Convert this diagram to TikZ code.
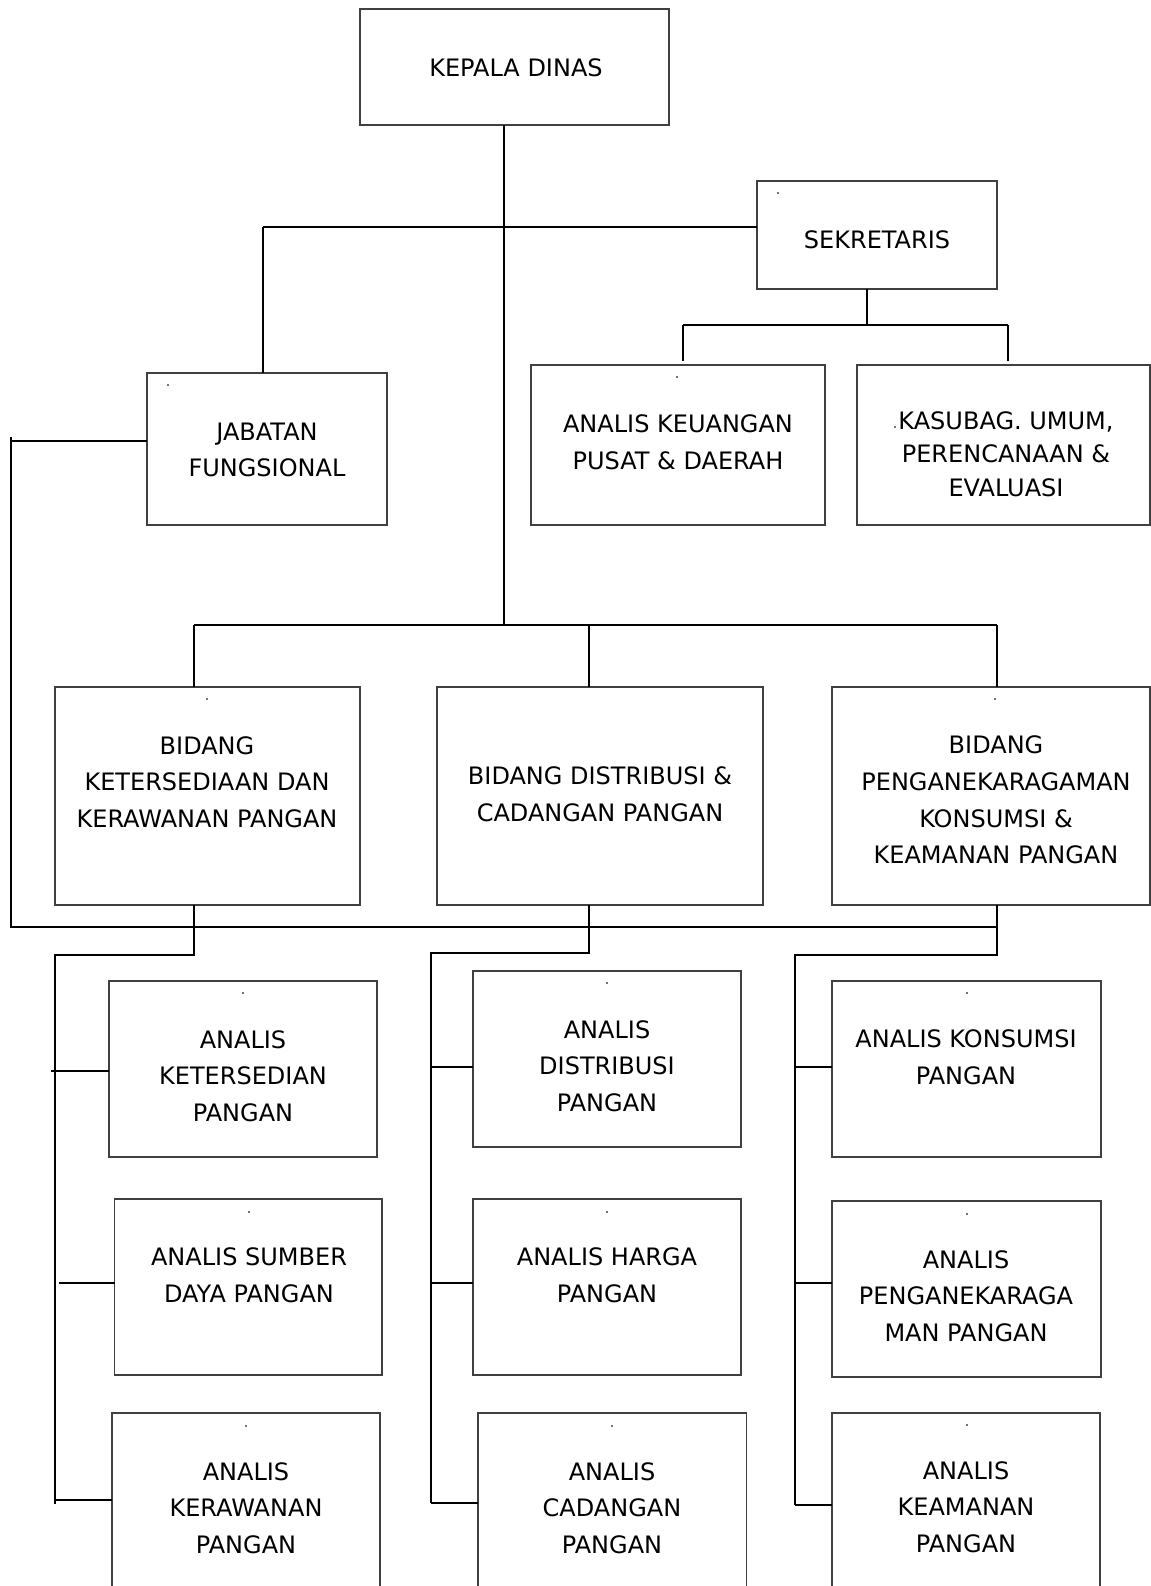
\documentclass[tikz,border=0pt]{standalone}
\usepackage{fontspec}
\setmainfont{DejaVu Sans}
\usetikzlibrary{fit,calc}
\tikzset{
  boxst/.style={draw=black!75, line width=1.1pt, inner sep=0pt, outer sep=0pt},
  lbl/.style={inner sep=0pt, align=center, font=\fontsize{18}{27.45}\selectfont},
  conn/.style={draw=black, line width=1.3pt},
  speck/.style={fill=black!55}
}
\newcommand{\mkbox}[5]{%
  \coordinate (#1-nw) at (#2,#3);
  \coordinate (#1-se) at (#4,#5);
  \node[boxst, fit=(#1-nw)(#1-se)] (#1) {};
}
\newcommand{\speckat}[2]{\fill[speck] (#1-1,#2-1) rectangle (#1+1,#2+1);}
\begin{document}
\begin{tikzpicture}[x=0.75pt, y=-0.75pt]
\useasboundingbox (0,0) rectangle (1151,1586);
\clip (0,0) rectangle (1151,1586);
\fill[white] (0,0) rectangle (1151,1586);

% ---- boxes ----
\mkbox{kepala}{360}{9}{669}{125}
\mkbox{sek}{757}{181}{997}{289}
\mkbox{jab}{147}{373}{387}{525}
\mkbox{keu}{531}{365}{825}{525}
\mkbox{kas}{857}{365}{1150}{525}
\mkbox{b1}{55}{687}{360}{905}
\mkbox{b2}{437}{687}{763}{905}
\mkbox{b3}{832}{687}{1150}{905}
\mkbox{a1}{109}{981}{377}{1157}
\mkbox{a2}{114.5}{1199}{382}{1375}
\mkbox{a3}{112}{1413}{380}{1610}
\mkbox{d1}{473}{971}{741}{1147}
\mkbox{d2}{473}{1199}{741}{1375}
\mkbox{d3}{478}{1413}{746.5}{1610}
\mkbox{k1}{832}{981}{1101}{1157}
\mkbox{k2}{832}{1201}{1101}{1377}
\mkbox{k3}{832}{1413}{1100}{1610}

% ---- labels ----
\node[lbl] (tkepala) at (516,68) {KEPALA DINAS};
\node[lbl] (tsek) at (877,240) {SEKRETARIS};
\node[lbl] (tjab) at (267,450) {JABATAN\\FUNGSIONAL};
\node[lbl] (tkeu) at (678,442) {ANALIS KEUANGAN\\PUSAT \& DAERAH};
\node[lbl, font=\fontsize{18}{25.1}\selectfont] (tkas) at (1006,454) {KASUBAG. UMUM,\\PERENCANAAN \&\\EVALUASI};
\node[lbl] (tb1) at (207,782) {BIDANG\\KETERSEDIAAN DAN\\KERAWANAN PANGAN};
\node[lbl] (tb2) at (600,794) {BIDANG DISTRIBUSI \&\\CADANGAN PANGAN};
\node[lbl] (tb3) at (996,800) {BIDANG\\PENGANEKARAGAMAN\\KONSUMSI \&\\KEAMANAN PANGAN};
\node[lbl] (ta1) at (243,1076) {ANALIS\\KETERSEDIAN\\PANGAN};
\node[lbl] (ta2) at (249,1275) {ANALIS SUMBER\\DAYA PANGAN};
\node[lbl] (ta3) at (246,1508) {ANALIS\\KERAWANAN\\PANGAN};
\node[lbl] (td1) at (607,1066) {ANALIS\\DISTRIBUSI\\PANGAN};
\node[lbl] (td2) at (607,1275) {ANALIS HARGA\\PANGAN};
\node[lbl] (td3) at (612,1508) {ANALIS\\CADANGAN\\PANGAN};
\node[lbl] (tk1) at (966,1057) {ANALIS KONSUMSI\\PANGAN};
\node[lbl] (tk2) at (966,1296) {ANALIS\\PENGANEKARAGA\\MAN PANGAN};
\node[lbl] (tk3) at (966,1507) {ANALIS\\KEAMANAN\\PANGAN};

% ---- tiny specks ----
\speckat{778}{193}
\speckat{168}{385}
\speckat{677}{377}
\speckat{895}{427}
\speckat{207}{699}
\speckat{995}{699}
\speckat{243}{993}
\speckat{607}{983}
\speckat{967}{993}
\speckat{249}{1212}
\speckat{607}{1212}
\speckat{967}{1214}
\speckat{246}{1426}
\speckat{612}{1426}
\speckat{967}{1425}

% ---- junction coordinates ----
\coordinate (jK) at (504,625);
\coordinate (jS) at (263,227);
\coordinate (jSs) at (867,325);
\coordinate (sL) at (683,325);
\coordinate (sR) at (1008,325);
\coordinate (sLe) at (683,361);
\coordinate (sRe) at (1008,361);
\coordinate (bL) at (194,625);
\coordinate (bM) at (589,625);
\coordinate (bR) at (997,625);
\coordinate (fL) at (11,441);
\coordinate (fT) at (11,437);
\coordinate (fB) at (11,927);
\coordinate (fR) at (998,927);
\coordinate (c1) at (55,955);
\coordinate (c1e) at (55,1504);
\coordinate (c2) at (431,953);
\coordinate (c2e) at (431,1503);
\coordinate (c3) at (795,955);
\coordinate (c3e) at (795,1505);

% ---- connectors ----
\draw[conn] (kepala.south -| jK) -- (jK);
\draw[conn] (jS) -- (sek.west |- jS);
\draw[conn] (jS) -- (jab.north -| jS);
\draw[conn] (sek.south -| jSs) -- (jSs);
\draw[conn] (sL) -- (sR);
\draw[conn] (sL) -- (sLe);
\draw[conn] (sR) -- (sRe);
\draw[conn] (bL) -- (bR);
\draw[conn] (bL) -- (b1.north -| bL);
\draw[conn] (bM) -- (b2.north -| bM);
\draw[conn] (bR) -- (b3.north -| bR);
% jabatan fungsional line to the lower bar
\draw[conn] (jab.west |- fL) -- (fL);
\draw[conn] (fT) -- (fB) -- (fR);
% bidang 1 group
\draw[conn] (b1.south -| bL) -- (bL |- c1) -- (c1) -- (c1e);
\draw[conn] (51,1071) -- (a1.west |- 51,1071);
\draw[conn] (59,1283) -- (a2.west |- 59,1283);
\draw[conn] (55,1500) -- (a3.west |- 55,1500);
% bidang 2 group
\draw[conn] (b2.south -| bM) -- (bM |- c2) -- (c2) -- (c2e);
\draw[conn] (431,1067) -- (d1.west |- 431,1067);
\draw[conn] (431,1283) -- (d2.west |- 431,1283);
\draw[conn] (431,1503) -- (d3.west |- 431,1503);
% bidang 3 group
\draw[conn] (b3.south -| bR) -- (bR |- c3) -- (c3) -- (c3e);
\draw[conn] (795,1067) -- (k1.west |- 795,1067);
\draw[conn] (795,1283) -- (k2.west |- 795,1283);
\draw[conn] (795,1505) -- (k3.west |- 795,1505);
\end{tikzpicture}
\end{document}
